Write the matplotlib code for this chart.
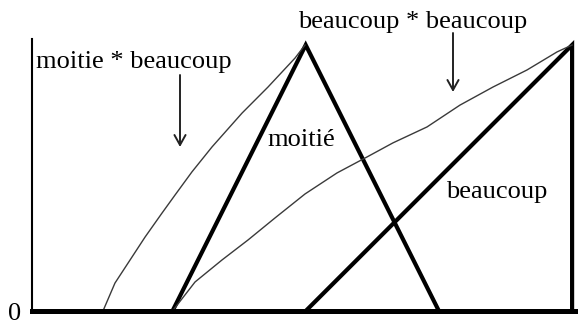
import matplotlib
matplotlib.use("Agg")
import matplotlib.pyplot as plt

# ---- data (membership functions) ----
moitie_x = [1.0, 2.0, 3.0]
moitie_y = [0.0, 1.0, 0.0]

beaucoup_x = [2.0, 4.0, 4.0]
beaucoup_y = [0.0, 1.0, 0.0]

moitie_beaucoup_x = [0.478, 0.568, 0.666, 0.794, 0.921, 1.019, 1.146, 1.297, 1.522, 1.717, 1.920, 1.995]
moitie_beaucoup_y = [0.0, 0.105, 0.180, 0.278, 0.368, 0.436, 0.523, 0.617, 0.744, 0.842, 0.951, 1.0]

beaucoup_beaucoup_x = [1.0, 1.169, 1.372, 1.567, 1.770, 1.995, 2.235, 2.460, 2.655, 2.911, 3.158, 3.406, 3.661, 3.887, 4.0]
beaucoup_beaucoup_y = [0.0, 0.109, 0.192, 0.267, 0.350, 0.440, 0.519, 0.579, 0.632, 0.692, 0.774, 0.842, 0.906, 0.974, 1.0]

ytick_vals = [0]
ytick_labels = ["0"]

# ---- figure ----
W, H = 587, 323
fig = plt.figure(figsize=(W / 100, H / 100), dpi=100)

def px2x(px):
    return (px - 172.5) / 133.2 + 1

def py2y(py):
    return (311 - py) / 266

ax = fig.add_axes([32 / W, 12 / H, (575 - 32) / W, (311 - 39) / H])
ax.set_xlim(px2x(32), px2x(575))
ax.set_ylim(0, py2y(39))

for s in ["top", "right"]:
    ax.spines[s].set_visible(False)
ax.spines["left"].set_linewidth(1.5)
ax.spines["bottom"].set_linewidth(3.6)
ax.set_xticks([])
ax.set_yticks(ytick_vals)
ax.set_yticklabels(ytick_labels, family="Liberation Serif", fontsize=19)
ax.tick_params(axis="y", length=0, pad=8)

thick = dict(color="black", lw=3.0, solid_joinstyle="miter", solid_capstyle="butt")
thin = dict(color="#3a3a3a", lw=1.0)

ax.plot(moitie_x, moitie_y, **thick)
ax.plot(beaucoup_x, beaucoup_y, **thick)
ax.plot(moitie_beaucoup_x, moitie_beaucoup_y, **thin)
ax.plot(beaucoup_beaucoup_x, beaucoup_beaucoup_y, **thin)

font = dict(family="Liberation Serif", fontsize=19, va="baseline", ha="left")
ax.text(px2x(36), py2y(68), "moitie * beaucoup", **font)
ax.text(px2x(298), py2y(28), "beaucoup * beaucoup", **font)
ax.text(px2x(267), py2y(146), "moitié", **font)
ax.text(px2x(446), py2y(198), "beaucoup", **font)

arrow = dict(arrowstyle="->,head_length=0.45,head_width=0.25", lw=1.4, color="#222222",
             mutation_scale=16, shrinkA=0, shrinkB=0)
ax.annotate("", xy=(px2x(180), py2y(147)), xytext=(px2x(180), py2y(75)), arrowprops=arrow, annotation_clip=False)
ax.annotate("", xy=(px2x(453), py2y(92)), xytext=(px2x(453), py2y(33)), arrowprops=arrow, annotation_clip=False)

fig.savefig("out.png", dpi=100)
